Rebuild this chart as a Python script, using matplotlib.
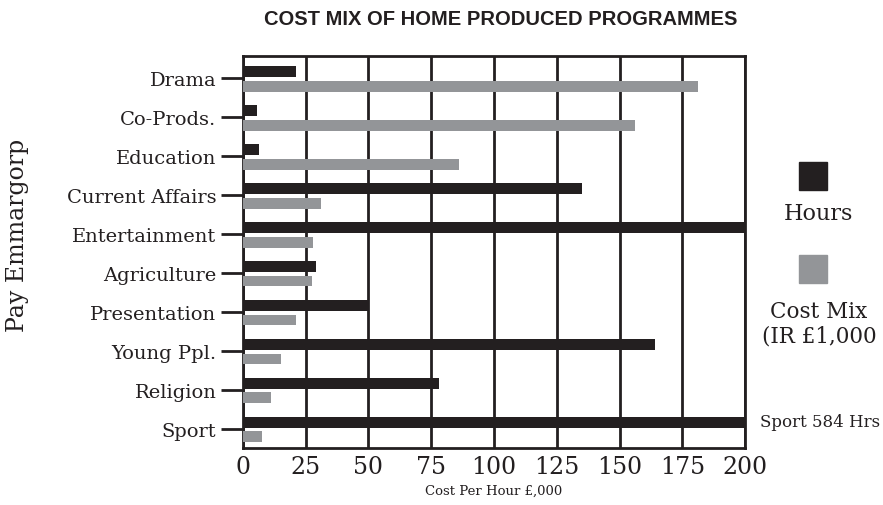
import numpy as np
import matplotlib.pyplot as plt

categories = ['Drama', 'Co-Prods.', 'Education', 'Current Affairs', 'Entertainment',
              'Agriculture', 'Presentation', 'Young Ppl.', 'Religion', 'Sport']
hours = [21, 5.5, 6.4, 135, 200, 29, 50, 164, 78, 584]
cost_mix = [181, 156, 86, 31, 27.8, 27.4, 21, 15, 11.4, 7.8]
xticks = [0, 25, 50, 75, 100, 125, 150, 175, 200]

dark = '#231f20'
grey = '#939598'
serif = 'DejaVu Serif'

fig = plt.figure(figsize=(8.83, 5.06), dpi=100)
ax = fig.add_axes([0.275, 0.113, 0.569, 0.774])

y = np.arange(len(categories))
ax.barh(y - 0.17, hours, height=0.28, color=dark, zorder=3)
ax.barh(y + 0.21, cost_mix, height=0.28, color=grey, zorder=3)

ax.set_xlim(0, 200)
ax.set_ylim(9.49, -0.56)
ax.set_xticks(xticks)
ax.set_xticklabels([str(t) for t in xticks], family=serif, fontsize=17, color=dark)
ax.set_yticks(y)
ax.set_yticklabels(categories, family=serif, fontsize=14, color=dark)
ax.tick_params(axis='x', length=0, pad=5)
ax.tick_params(axis='y', length=16, width=2, color=dark, pad=3)
ax.grid(axis='x', color=dark, linewidth=2, zorder=1)
for s in ax.spines.values():
    s.set_linewidth(2)
    s.set_color(dark)

ax.set_xlabel('Cost Per Hour £,000', family=serif, fontsize=9.5, labelpad=4, color=dark)
fig.text(0.020, 0.534, 'Pay Emmargorp', rotation=90, family=serif, fontsize=17,
         ha='center', va='center', color=dark)
fig.text(0.567, 0.962, 'COST MIX OF HOME PRODUCED PROGRAMMES', family='Liberation Sans',
         weight='bold', fontsize=14.5, ha='center', va='center', color=dark)

# legend drawn by hand on the right
fig.patches.append(plt.Rectangle((799 / 883, 1 - 191 / 506), 28 / 883, 28 / 506,
                                 transform=fig.transFigure, color=dark))
fig.patches.append(plt.Rectangle((799 / 883, 1 - 284 / 506), 28 / 883, 28 / 506,
                                 transform=fig.transFigure, color=grey))
fig.text(818 / 883, 1 - 214 / 506, 'Hours', family=serif, fontsize=16,
         ha='center', va='center', color=dark)
fig.text(819 / 883, 1 - 324 / 506, 'Cost Mix\n(IR £1,000', family=serif, fontsize=15.5,
         ha='center', va='center', color=dark, linespacing=1.15)
fig.text(820 / 883, 1 - 423 / 506, 'Sport 584 Hrs', family=serif, fontsize=12,
         ha='center', va='center', color=dark)

plt.savefig('out.png', dpi=100)
